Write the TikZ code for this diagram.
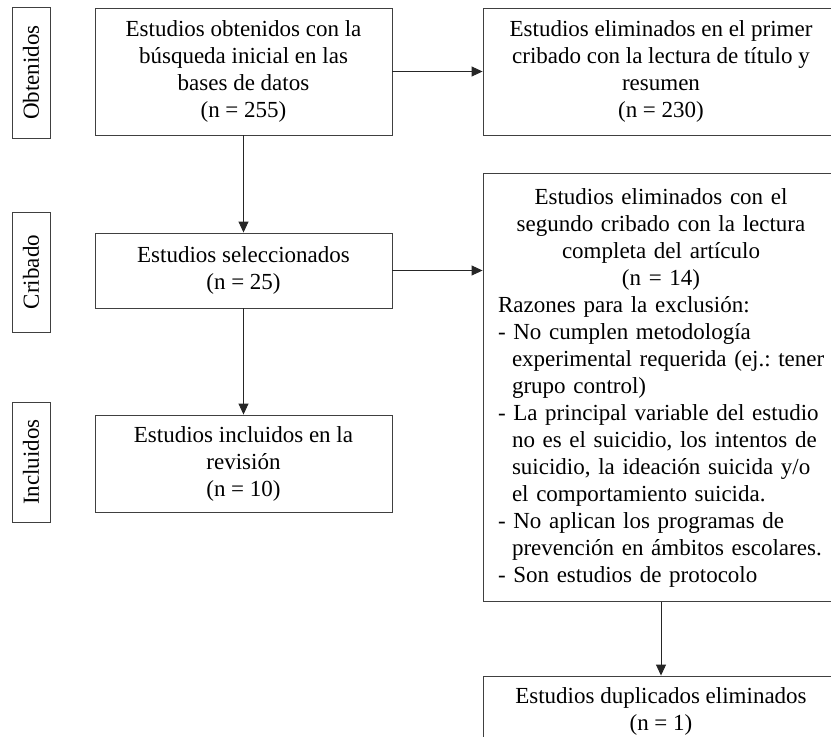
\documentclass[tikz,border=0pt]{standalone}
\usepackage{fontspec}
\setmainfont{Liberation Serif}
\usetikzlibrary{arrows.meta}
\begin{document}
\begin{tikzpicture}[x=1pt,y=-1pt,
  every node/.style={font=\fontsize{23}{27}\selectfont\frenchspacing},
  box/.style={draw=black!75, line width=0.9pt, align=center, inner sep=0pt},
  bigbox/.style={draw=black!75, line width=0.9pt, inner sep=15pt, text width=326pt,
    execute at begin node={\parindent=0pt\hfuzz=30pt}},
  phase/.style={draw=black!75, line width=0.9pt, rotate=90, inner sep=0pt, minimum height=38pt},
  arr/.style={draw=black!85, line width=0.9pt, -{Triangle[length=11pt,width=10pt]}}]
\useasboundingbox (0,0) rectangle (831,737);
\clip (0,0) rectangle (831,737);
% phase labels
\node[phase, minimum width=131pt] (ob) at (31,72.5) {Obtenidos};
\node[phase, minimum width=120pt] (cr) at (31,272) {Cribado};
\node[phase, minimum width=120pt] (in) at (31,462) {Incluidos};
% main boxes
\node[box, minimum width=297pt, minimum height=127pt] (b1) at (243.5,71.5)
  {Estudios obtenidos con la\\ búsqueda inicial en las\\ bases de datos\\ (n = 255)};
\node[box, minimum width=356pt, minimum height=127pt] (b2) at (661,71.5)
  {Estudios eliminados en el primer\\ cribado con la lectura de título y\\ resumen\\ (n = 230)};
\node[box, minimum width=297pt, minimum height=75pt] (sel) at (243.5,270.5)
  {Estudios seleccionados\\ (n = 25)};
\node[box, minimum width=297pt, minimum height=97pt] (inc) at (243.5,463.5)
  {Estudios incluidos en la\\ revisión\\ (n = 10)};
\node[bigbox, minimum height=425pt] (big) at (661,387.5)
  {{\centering Estudios eliminados con el\\ segundo cribado con la lectura\\ completa del artículo\\ (n = 14)\par}
   \raggedright Razones para la exclusión:\par
   \hangindent=14pt\hangafter=1 \mbox{- No cumplen metodología}\newline \mbox{experimental requerida (ej.: tener}\newline \mbox{grupo control)}\par
   \hangindent=14pt\hangafter=1 \mbox{- La principal variable del estudio}\newline \mbox{no es el suicidio, los intentos de}\newline \mbox{suicidio, la ideación suicida y/o}\newline \mbox{el comportamiento suicida.}\par
   \hangindent=14pt\hangafter=1 \mbox{- No aplican los programas de}\newline \mbox{prevención en ámbitos escolares.}\par
   \hangindent=14pt\hangafter=1 \mbox{- Son estudios de protocolo}\par};
\node[box, minimum width=356pt, minimum height=70pt] (dup) at (661,711)
  {Estudios duplicados eliminados\\ (n = 1)};
% connectors
\draw[arr] (b1.east) -- (b2.west);
\draw[arr] (b1.south) -- (sel.north);
\draw[arr] (sel.east) -- (sel.east -| big.west);
\draw[arr] (sel.south) -- (inc.north);
\draw[arr] (big.south) -- (dup.north);
\end{tikzpicture}
\end{document}
